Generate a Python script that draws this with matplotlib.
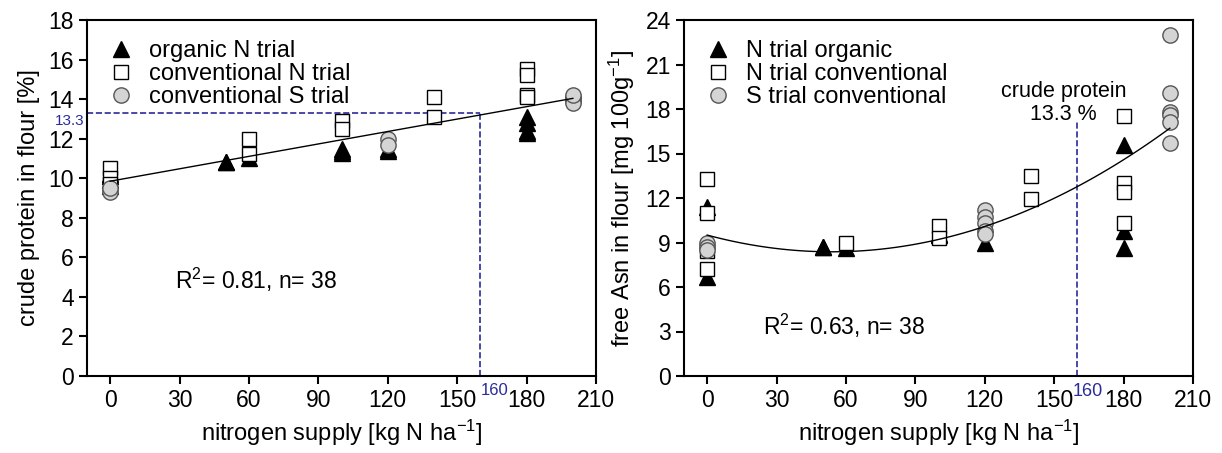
import numpy as np
import matplotlib
matplotlib.use("Agg")
import matplotlib.pyplot as plt

plt.rcParams['font.family'] = ['Liberation Sans', 'DejaVu Sans']
plt.rcParams['mathtext.fontset'] = 'custom'
plt.rcParams['mathtext.rm'] = 'Liberation Sans'
plt.rcParams['mathtext.it'] = 'Liberation Sans:italic'

## DATA

# Left panel: crude protein in flour [%]
cp_org_x = [0, 0, 0, 0, 50, 50, 60, 100, 100, 100, 120, 120, 180, 180, 180, 180]
cp_org_y = [10.1, 9.9, 9.6, 10.2, 10.8, 10.8, 11.0, 11.5, 11.3, 11.4, 11.5, 11.4, 13.1, 12.8, 12.4, 12.3]
cp_conv_x = [0, 0, 0, 60, 60, 100, 100, 140, 140, 180, 180, 180, 180]
cp_conv_y = [10.5, 10.0, 9.7, 12.0, 11.2, 12.9, 12.5, 14.1, 13.1, 15.5, 15.2, 14.2, 14.1]
cp_s_x = [0, 0, 120, 120, 200, 200, 200, 200, 200]
cp_s_y = [9.3, 9.5, 12.0, 11.7, 14.1, 14.0, 13.9, 13.8, 14.2]

# Right panel: free Asn in flour [mg 100g-1]
asn_org_x = [0, 0, 50, 50, 60, 100, 100, 120, 180, 180, 180]
asn_org_y = [11.4, 6.7, 8.7, 8.7, 8.6, 9.6, 9.5, 9.0, 15.6, 9.8, 8.6]
asn_conv_x = [0, 0, 0, 0, 60, 100, 100, 140, 140, 180, 180, 180, 180]
asn_conv_y = [13.3, 11.0, 8.4, 7.2, 9.0, 10.1, 9.3, 13.5, 11.9, 17.5, 13.0, 12.4, 10.3]
asn_s_x = [0, 0, 0, 120, 120, 120, 120, 120, 200, 200, 200, 200, 200, 200]
asn_s_y = [9.0, 8.7, 8.5, 11.2, 10.7, 10.3, 9.8, 9.6, 23.0, 19.1, 17.8, 17.6, 17.1, 15.7]

cp_target = 13.3
n_target = 160
asn_line_top = 17.1

x_ticks = [0, 30, 60, 90, 120, 150, 180, 210]

FS = 16.5
BLUE = '#2b2b9a'

fig = plt.figure(figsize=(12.22, 4.53), dpi=100)
ax1 = fig.add_axes([87 / 1222, 77 / 453, 509 / 1222, 356 / 453])
ax2 = fig.add_axes([684 / 1222, 77 / 453, 509 / 1222, 356 / 453])


def style_axis(ax, ymax, ystep):
    ax.set_xlim(-10, 210)
    ax.set_ylim(0, ymax)
    ax.set_xticks(x_ticks)
    ax.set_yticks(np.arange(0, ymax + 1, ystep))
    for s in ax.spines.values():
        s.set_linewidth(1.5)
    ax.tick_params(direction='out', length=6, width=1.5, labelsize=FS,
                   top=False, right=False)
    ax.set_xlabel(r'nitrogen supply [kg N ha$^{-1}$]', fontsize=17, labelpad=4)


def scatter_sets(ax, org, conv, s, labels):
    ax.plot(org[0], org[1], '^', color='black', markersize=12, linestyle='none',
            label=labels[0], zorder=3)
    ax.plot(conv[0], conv[1], 's', markerfacecolor='white', markeredgecolor='black',
            markersize=9.5, markeredgewidth=1.0, linestyle='none', label=labels[1], zorder=3)
    ax.plot(s[0], s[1], 'o', markerfacecolor='#d4d4d4', markeredgecolor='#555555',
            markersize=11, markeredgewidth=1.0, linestyle='none', label=labels[2], zorder=3)
    ax.legend(loc='upper left', frameon=False, fontsize=17, handletextpad=0.5,
              borderaxespad=0.3, labelspacing=0.05, handlelength=1.3,
              bbox_to_anchor=(0.005, 0.99))


## LEFT PANEL
scatter_sets(ax1, (cp_org_x, cp_org_y), (cp_conv_x, cp_conv_y), (cp_s_x, cp_s_y),
             ['organic N trial', 'conventional N trial', 'conventional S trial'])
all_x = np.array(cp_org_x + cp_conv_x + cp_s_x)
all_y = np.array(cp_org_y + cp_conv_y + cp_s_y)
fit1 = np.polyfit(all_x, all_y, 1)
xx = np.linspace(0, 200, 100)
ax1.plot(xx, np.polyval(fit1, xx), color='black', linewidth=1.0, zorder=4)
ax1.plot([-10, n_target], [cp_target, cp_target], '--', color=BLUE, linewidth=1.2, zorder=2)
ax1.plot([n_target, n_target], [0, cp_target], '--', color=BLUE, linewidth=1.2, zorder=2)
ax1.text(-11, cp_target - 0.05, '13.3', color=BLUE, fontsize=11, ha='right', va='top',
         clip_on=False)
ax1.text(n_target, -0.35, '160', color=BLUE, fontsize=12, ha='left', va='top',
         clip_on=False)
ax1.text(63, 4.85, r'R$^2$= 0.81, n= 38', fontsize=16.5, ha='center', va='center')
style_axis(ax1, 18, 2)
ax1.set_ylabel('crude protein in flour [%]', fontsize=17, labelpad=6)

## RIGHT PANEL
scatter_sets(ax2, (asn_org_x, asn_org_y), (asn_conv_x, asn_conv_y), (asn_s_x, asn_s_y),
             ['N trial organic', 'N trial conventional', 'S trial conventional'])
all_x2 = np.array(asn_org_x + asn_conv_x + asn_s_x)
all_y2 = np.array(asn_org_y + asn_conv_y + asn_s_y)
fit2 = np.polyfit(all_x2, all_y2, 2)
ax2.plot(xx, np.polyval(fit2, xx), color='black', linewidth=1.0, zorder=4)
ax2.plot([n_target, n_target], [0, asn_line_top], '--', color=BLUE, linewidth=1.2, zorder=2)
ax2.text(154, 16.9, 'crude protein\n13.3 %', fontsize=15.5, ha='center',
         va='bottom', linespacing=1.15)
ax2.text(n_target - 2, -0.45, '160', color=BLUE, fontsize=13, ha='left', va='top',
         clip_on=False)
ax2.text(59, 3.4, r'R$^2$= 0.63, n= 38', fontsize=16.5, ha='center', va='center')
style_axis(ax2, 24, 3)
ax2.set_ylabel(r'free Asn in flour [mg 100g$^{-1}$]', fontsize=17, labelpad=6)

fig.savefig('out.png', dpi=100)
